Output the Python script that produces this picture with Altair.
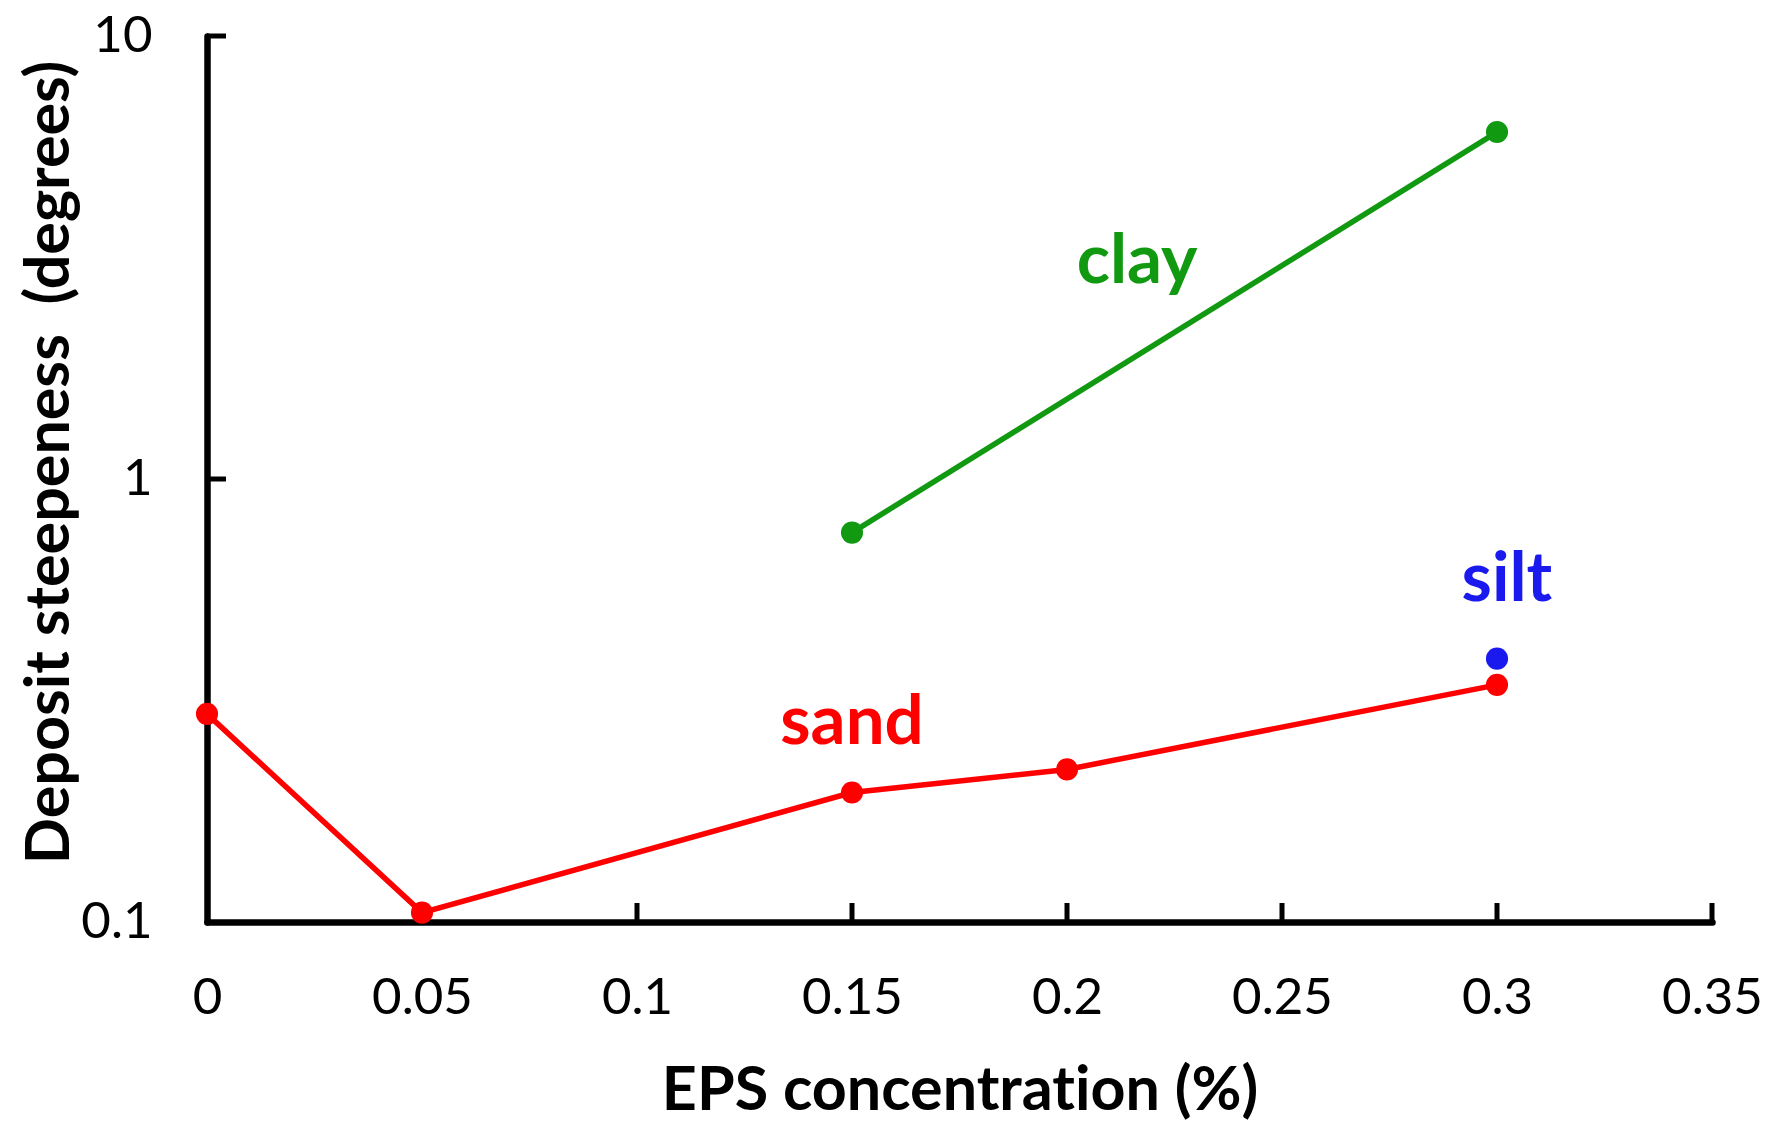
import altair as alt
import pandas as pd

# ---- data ----
sand_x = [0.0, 0.05, 0.15, 0.2, 0.3]
sand_y = [0.295, 0.105, 0.196, 0.221, 0.343]
clay_x = [0.15, 0.3]
clay_y = [0.757, 6.07]
silt_x = [0.3]
silt_y = [0.393]

label_text = ["sand", "clay", "silt"]
label_x = [0.15, 0.2163, 0.3023]
label_y = [0.252, 2.77, 0.530]

x_ticks = [0, 0.05, 0.1, 0.15, 0.2, 0.25, 0.3, 0.35]
y_ticks = [0.1, 1, 10]
x_inner_ticks = [0.05, 0.1, 0.15, 0.2, 0.25, 0.3, 0.35]
y_inner_ticks = [1, 10]

series = ["sand", "clay", "silt"]
colors = ["#ff0000", "#119911", "#1a1aee"]

W, H = 1505, 886
FONT = "Lato"

rows = []
for name, xs, ys in [("sand", sand_x, sand_y), ("clay", clay_x, clay_y), ("silt", silt_x, silt_y)]:
    for xv, yv in zip(xs, ys):
        rows.append({"x": xv, "y": yv, "series": name})
df = pd.DataFrame(rows)

lab = pd.DataFrame({"x": label_x, "y": label_y, "series": label_text, "text": label_text})
xt = pd.DataFrame({"x": x_inner_ticks})
yt = pd.DataFrame({"y": y_inner_ticks})

x_scale = alt.Scale(domain=[0, 0.35], nice=False, zero=False)
y_scale = alt.Scale(type="log", domain=[0.1, 10], nice=False)

x_axis = alt.Axis(
    values=x_ticks, format="~g", title="EPS concentrat\u200cion (%)",
    ticks=False, tickSize=0, grid=False,
    domainColor="black", domainWidth=6.5, domainCap="round",
    labelFont=FONT, labelFontSize=51, labelColor="black", labelPadding=51,
    labelFlush=False, labelOverlap=False, labelBound=False,
    titleFont=FONT, titleFontSize=61, titleFontWeight="bold", titleColor="black",
    titleX=W / 2, titleY=187, titleAlign="center", titleBaseline="alphabetic",
)
y_axis = alt.Axis(
    values=y_ticks, format="~g", title="Deposit steepeness \u00a0(degrees)",
    ticks=False, tickSize=0, grid=False,
    domainColor="black", domainWidth=6.5, domainCap="round",
    labelFont=FONT, labelFontSize=51, labelColor="black", labelPadding=55,
    labelAlign="right", labelBaseline="middle",
    labelFlush=False, labelOverlap=False, labelBound=False,
    titleFont=FONT, titleFontSize=61, titleFontWeight="bold", titleColor="black",
    titleX=-139, titleY=426, titleAngle=270, titleAlign="center", titleBaseline="alphabetic",
)

X = alt.X("x:Q", scale=x_scale, axis=x_axis)
Y = alt.Y("y:Q", scale=y_scale, axis=y_axis)
C = alt.Color("series:N", scale=alt.Scale(domain=series, range=colors), legend=None)

lines = alt.Chart(df).mark_line(strokeWidth=5.5).encode(x=X, y=Y, color=C, detail="series:N")
points = alt.Chart(df).mark_circle(size=490, opacity=1).encode(x=X, y=Y, color=C)
texts = alt.Chart(lab).mark_text(
    font=FONT, fontWeight="bold", fontSize=69, align="center", baseline="alphabetic"
).encode(x=X, y=Y, text="text:N", color=C)

xtick_rules = alt.Chart(xt).mark_rule(color="black", strokeWidth=5).encode(
    x=X, y=alt.value(H), y2=alt.value(H - 19)
)
ytick_rules = alt.Chart(yt).mark_rule(color="black", strokeWidth=5).encode(
    y=Y, x=alt.value(0), x2=alt.value(19)
)

chart = alt.layer(xtick_rules, ytick_rules, lines, points, texts).properties(
    width=W, height=H,
    autosize=alt.AutoSizeParams(type="none"),
    padding={"left": 207, "top": 36, "right": 63, "bottom": 200},
    background="white",
).configure_view(strokeWidth=0)

chart.save("out.html", embed_options={"renderer": "svg", "actions": False})
